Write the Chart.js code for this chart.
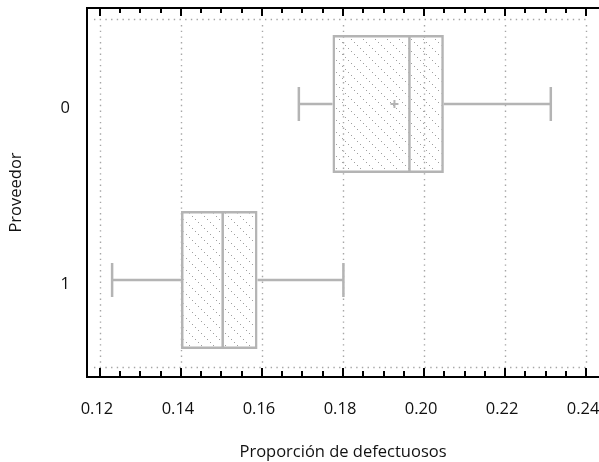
<!DOCTYPE html>
<html>
<head>
<meta charset="utf-8">
<script src="https://cdn.jsdelivr.net/npm/chart.js@4.4.1/dist/chart.umd.min.js"></script>
<style>
  html, body { margin: 0; padding: 0; background: #fff; }
  #wrap { width: 599px; height: 462px; }
</style>
</head>
<body>
<div id="wrap"><canvas id="c" width="599" height="462"></canvas></div>
<script>
// ---- data ----
const categories   = ['0', '1'];          // Proveedor
const categoryPos  = [0, 1];
const whiskerLow   = [0.1691, 0.1230];
const q1           = [0.1774, 0.1400];
const median       = [0.1964, 0.1503];
const q3           = [0.2049, 0.1589];
const whiskerHigh  = [0.2313, 0.1801];
const means        = [0.1927, null];
const xTickValues  = [0.12, 0.14, 0.16, 0.18, 0.20, 0.22, 0.24];

// ---- style constants ----
const BOX_GRAY = '#b4b4b4';
const BOX_FRAC = 0.784;          // box height as fraction of category spacing
const HALF_BOX = BOX_FRAC / 2;
const CAP_HALF = 0.097;
const FONT = "'Open Sans', 'DejaVu Sans', sans-serif";
const FSIZE = 16.5;

const canvas = document.getElementById('c');
const ctx = canvas.getContext('2d');

// dotted hatch pattern for the boxes
const tile = document.createElement('canvas');
tile.width = 12; tile.height = 12;
const tc = tile.getContext('2d');
tc.fillStyle = '#a0a0a0';
for (let k = 0; k < 4; k++) tc.fillRect(k * 3, k * 3, 1, 1);
const hatch = ctx.createPattern(tile, 'repeat');

// whisker segments built from the data (null points break the line)
function whiskerPoints(i) {
  const v = categoryPos[i];
  return [
    {x: whiskerLow[i], y: v - CAP_HALF}, {x: whiskerLow[i], y: v + CAP_HALF}, {x: null, y: null},
    {x: whiskerLow[i], y: v}, {x: q1[i], y: v}, {x: null, y: null},
    {x: q3[i], y: v}, {x: whiskerHigh[i], y: v}, {x: null, y: null},
    {x: whiskerHigh[i], y: v - CAP_HALF}, {x: whiskerHigh[i], y: v + CAP_HALF}, {x: null, y: null},
    {x: median[i], y: v - HALF_BOX}, {x: median[i], y: v + HALF_BOX}
  ];
}

const lineCommon = {
  type: 'line',
  borderColor: BOX_GRAY,
  borderWidth: 2.5,
  pointRadius: 0,
  spanGaps: false,
  fill: false,
  tension: 0,
  order: 1
};

const datasets = [
  {
    type: 'bar',
    indexAxis: 'y',
    data: categoryPos.map((c, i) => ({x: [q1[i], q3[i]], y: c})),
    backgroundColor: hatch,
    borderColor: BOX_GRAY,
    borderWidth: 2.5,
    borderSkipped: false,
    categoryPercentage: 1,
    barPercentage: BOX_FRAC,
    order: 3
  },
  ...categoryPos.map((c, i) => Object.assign({}, lineCommon, {data: whiskerPoints(i)})),
  {
    type: 'line',
    showLine: false,
    data: categoryPos.map((c, i) => ({x: means[i], y: means[i] === null ? null : c})),
    pointStyle: 'cross',
    pointRadius: 4,
    pointBorderWidth: 2,
    pointBorderColor: BOX_GRAY,
    pointBackgroundColor: BOX_GRAY,
    order: 0
  }
];

// dotted grid + frame/ticks
const frameLines = [-0.483, 1.494];
const gridPlugin = {
  id: 'gridPlugin',
  beforeDatasetsDraw(chart) {
    const {ctx, scales: {x, y}} = chart;
    const yTop = y.getPixelForValue(frameLines[0]);
    const yBot = y.getPixelForValue(frameLines[1]);
    ctx.save();
    ctx.strokeStyle = '#a6a6a6';
    ctx.lineWidth = 1.4;
    ctx.setLineDash([1.4, 4.3]);
    x.ticks.forEach(t => {
      const px = Math.round(x.getPixelForValue(t.value)) + 0.5;
      ctx.beginPath(); ctx.moveTo(px, yTop + 6); ctx.lineTo(px, yBot); ctx.stroke();
    });
    const xl = x.getPixelForValue(xTickValues[0]) - 6;
    const xr = x.getPixelForValue(xTickValues[xTickValues.length - 1]) + 3;
    frameLines.forEach(v => {
      const py = Math.round(y.getPixelForValue(v)) + 0.5;
      ctx.beginPath(); ctx.moveTo(xl, py); ctx.lineTo(xr, py); ctx.stroke();
    });
    ctx.restore();
  },
  afterDraw(chart) {
    const {ctx, chartArea: a, scales: {x}} = chart;
    ctx.save();
    ctx.strokeStyle = '#000';
    ctx.lineWidth = 2;
    ctx.beginPath(); ctx.moveTo(a.left - 1, a.top); ctx.lineTo(chart.width, a.top); ctx.stroke();
    const first = xTickValues[0], last = xTickValues[xTickValues.length - 1];
    const n = Math.round((last - first) / 0.005);
    for (let k = 0; k <= n; k++) {
      const v = first + k * 0.005;
      const px = Math.round(x.getPixelForValue(v));
      const major = k % 4 === 0;
      const len = major ? 8 : 5;
      ctx.beginPath(); ctx.moveTo(px, a.top); ctx.lineTo(px, a.top + len); ctx.stroke();
      ctx.beginPath(); ctx.moveTo(px, a.bottom); ctx.lineTo(px, a.bottom - len - 1); ctx.stroke();
    }
    ctx.restore();
  }
};

new Chart(ctx, {
  type: 'bar',
  data: { datasets },
  plugins: [gridPlugin],
  options: {
    responsive: false,
    animation: false,
    layout: { autoPadding: false, padding: { top: 8, right: 0, left: 0, bottom: 0 } },
    plugins: { legend: { display: false }, tooltip: { enabled: false } },
    scales: {
      x: {
        type: 'linear',
        position: 'bottom',
        offset: false,
        beginAtZero: false,
        min: 0.1168,
        max: 0.2432,
        afterBuildTicks: s => { s.ticks = xTickValues.map(v => ({value: v})); },
        afterFit: s => { s.height = 85; s.paddingLeft = 0; s.paddingRight = 0; s.paddingTop = 0; s.paddingBottom = 0; },
        grid: { display: false, drawTicks: false, offset: false },
        border: { display: true, color: '#000', width: 2 },
        ticks: {
          autoSkip: false, maxRotation: 0, padding: 22, labelOffset: -3,
          color: '#111', font: { family: FONT, size: FSIZE },
          callback: v => Number(v).toFixed(2)
        },
        title: {
          display: true, text: 'Proporción de defectuosos', color: '#111',
          font: { family: FONT, size: FSIZE }, padding: { top: 0, bottom: 0 }
        }
      },
      y: {
        type: 'linear',
        position: 'left',
        offset: false,
        beginAtZero: false,
        reverse: true,
        min: -0.5455,
        max: 1.5511,
        afterBuildTicks: s => { s.ticks = categoryPos.map(v => ({value: v})); },
        afterFit: s => { s.width = 87; s.paddingLeft = 0; s.paddingRight = 0; s.paddingTop = 0; s.paddingBottom = 0; },
        grid: { display: false, drawTicks: false, offset: false },
        border: { display: true, color: '#000', width: 2 },
        ticks: {
          autoSkip: false, padding: 17, labelOffset: 4,
          color: '#111', font: { family: FONT, size: FSIZE },
          callback: v => categories[categoryPos.indexOf(v)] ?? ''
        },
        title: {
          display: true, text: 'Proveedor', color: '#111',
          font: { family: FONT, size: FSIZE }, padding: { top: 6, bottom: 0 }
        }
      }
    }
  }
});
</script>
</body>
</html>
